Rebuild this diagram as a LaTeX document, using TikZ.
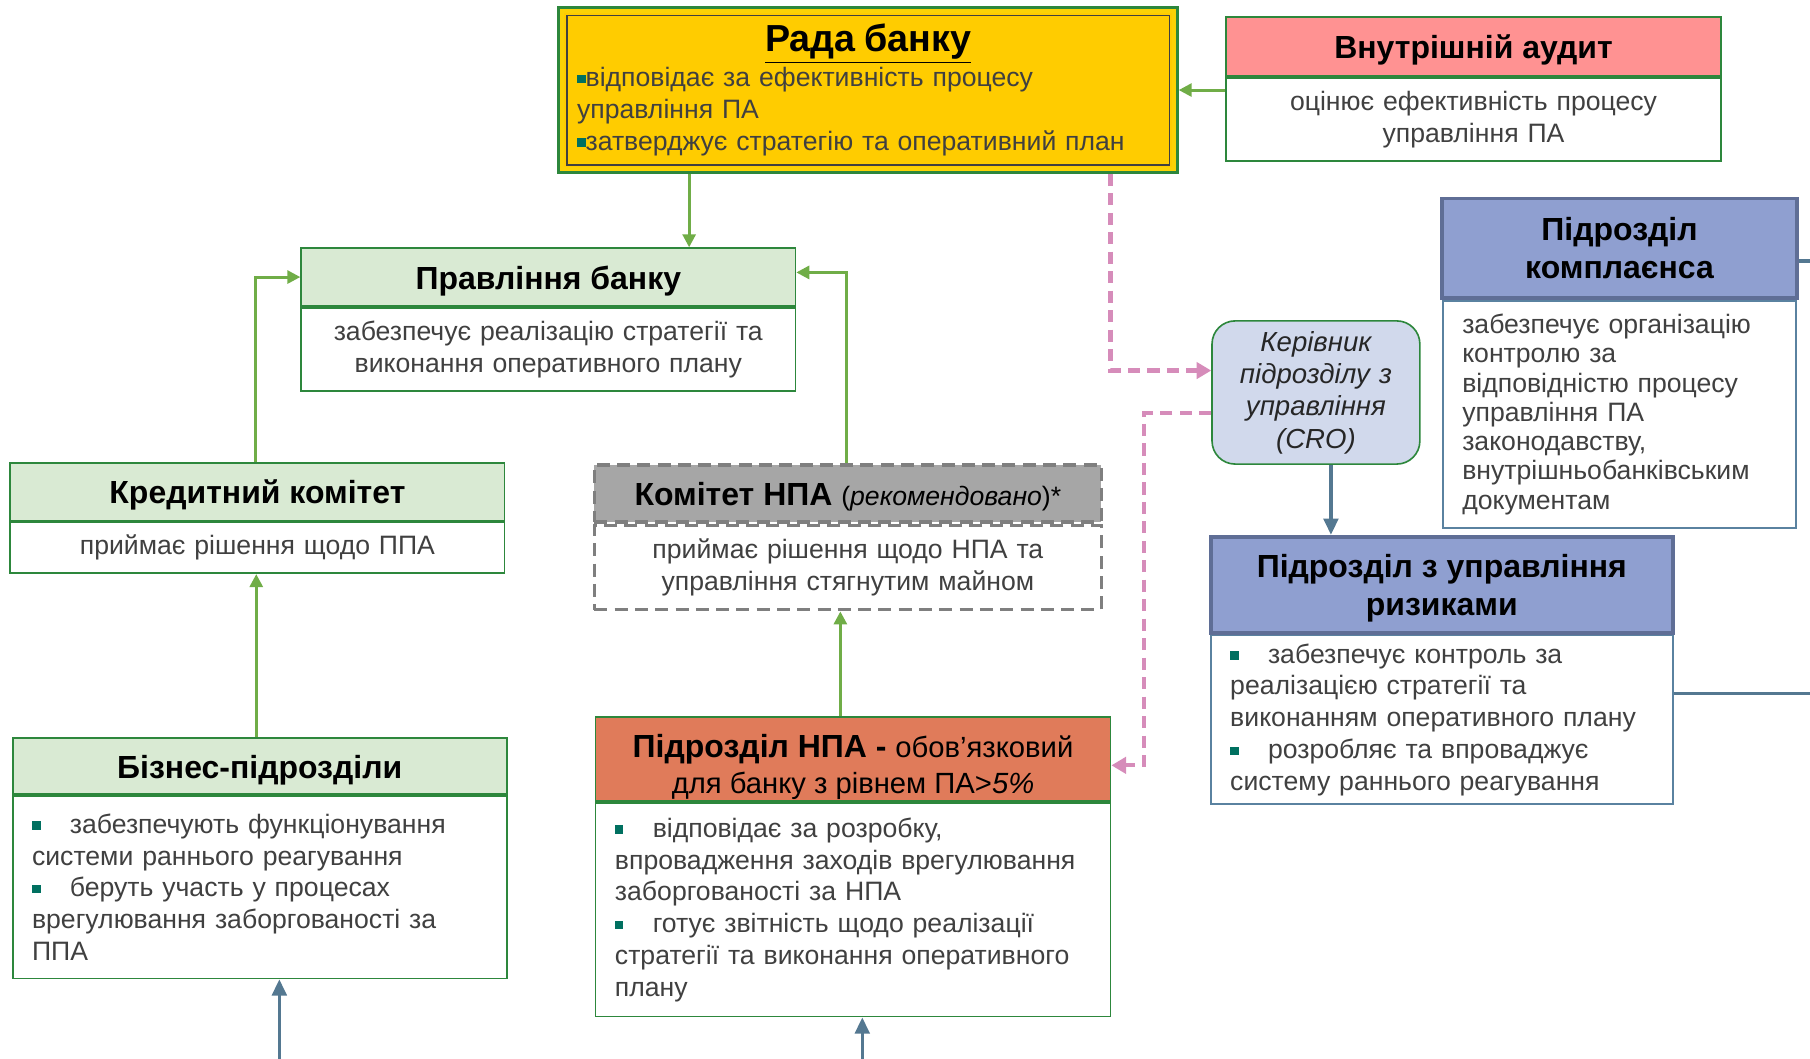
\documentclass[tikz,border=0pt]{standalone}
\usepackage{fontspec}
\setmainfont{Liberation Sans}
\usetikzlibrary{arrows.meta}

\definecolor{radayellow}{RGB}{255,204,0}
\definecolor{auditpink}{RGB}{255,146,146}
\definecolor{lgreen}{RGB}{217,234,211}
\definecolor{boxgreen}{RGB}{45,135,60}
\definecolor{lgreenline}{RGB}{112,173,71}
\definecolor{hdrgray}{RGB}{166,166,166}
\definecolor{dashgray}{RGB}{127,127,127}
\definecolor{npaorange}{RGB}{224,123,90}
\definecolor{crofill}{RGB}{209,217,236}
\definecolor{periwinkle}{RGB}{143,159,208}
\definecolor{blueedge}{RGB}{95,110,150}
\definecolor{steelbox}{RGB}{90,130,160}
\definecolor{steel}{RGB}{84,120,145}
\definecolor{pinkline}{RGB}{214,140,186}
\definecolor{txtgray}{RGB}{64,64,64}
\definecolor{bulteal}{RGB}{0,112,96}

\newcommand{\bodyfont}{\fontsize{16.4}{19.6}\selectfont}
\newcommand{\headfont}{\fontsize{19.7}{23.5}\selectfont\bfseries}
\newcommand{\bul}{{\color{bulteal}\rule[0.25ex]{0.32em}{0.32em}}}

\tikzset{
  hdrbox/.style={draw=boxgreen, line width=1.1pt, align=center, font=\headfont, text=black, inner sep=2pt, text depth=0pt},
  hdrone/.style={hdrbox, text height=15pt},
  bluehdr/.style={draw=blueedge, line width=2.4pt, fill=periwinkle},
  bodybox/.style={draw=boxgreen, line width=1.1pt, fill=white, anchor=north, font=\bodyfont, text=txtgray, inner xsep=0.42cm, inner ysep=2pt},
  bodyc/.style={bodybox, align=center},
  bodyl/.style={bodybox, align=left},
  dashbox/.style={draw=dashgray, line width=2.2pt, dash pattern=on 8pt off 4.5pt},
  garrow/.style={draw=lgreenline, line width=1.8pt, -{Triangle[length=8pt,width=8pt]}},
  barrow/.style={draw=steel, line width=2pt, -{Triangle[length=10pt,width=9pt]}},
  bline/.style={draw=steel, line width=2pt},
  parrow/.style={draw=pinkline, line width=2.6pt, dash pattern=on 7.5pt off 4.5pt, -{Triangle[length=9pt,width=10pt]}}
}

\begin{document}
\begin{tikzpicture}[x=0.025cm, y=-0.025cm]
			%%%%% START %%%%%
			\useasboundingbox (0,0) rectangle (1568,917);
			
			% rada and audit
			\node[draw=boxgreen, fill=radayellow, line width=1.5pt, minimum width=13.4cm, minimum height=3.575cm, text width=12.6cm, inner sep=2pt, align=left, font=\bodyfont, text=txtgray] (rada) at (752,78)
			  {\makebox[\linewidth]{\fontsize{23.2}{26}\selectfont\bfseries\color{black}\underline{Рада банку}}\\[2pt]
			   \bul відповідає за ефективність процесу\\ управління ПА\\ \bul затверджує стратегію та оперативний план};
			\draw[line width=2.5pt, draw=yellow!70!orange] ([xshift=0.1cm,yshift=-0.1cm]rada.north west) rectangle ([xshift=-0.1cm,yshift=0.1cm]rada.south east);
			\draw[line width=1.2pt, draw=black!75] ([xshift=0.2cm,yshift=-0.2cm]rada.north west) rectangle ([xshift=-0.2cm,yshift=0.2cm]rada.south east);
			
			\node[hdrone, fill=auditpink, minimum width=10.725cm, minimum height=1.275cm] (audit) at (1276.5,40.5) {Внутрішній аудит};
			\node[bodyc, minimum width=10.725cm, minimum height=1.8cm, text width=9.8cm] (auditb) at (audit.south) {оцінює ефективність процесу\\ управління ПА};
			
			% green boxes
			\node[hdrone, fill=lgreen, minimum width=10.7cm, minimum height=1.25cm] (pravl) at (475,240) {Правління банку};
			\node[bodyc, minimum width=10.7cm, minimum height=1.8cm, text width=9.8cm] (pravlb) at (pravl.south) {забезпечує реалізацію стратегії та\\ виконання оперативного плану};
			
			\node[hdrone, fill=lgreen, minimum width=10.7cm, minimum height=1.25cm] (kred) at (223,426) {Кредитний комітет};
			\node[bodyc, minimum width=10.7cm, minimum height=1.1cm, text width=9.8cm] (kredb) at (kred.south) {приймає рішення щодо ППА};
			
			\node[hdrone, fill=lgreen, minimum width=10.7cm, minimum height=1.225cm] (biz) at (225,663.5) {Бізнес-підрозділи};
			\node[bodyl, minimum width=10.7cm, minimum height=3.95cm, text width=9.86cm] (bizb) at (biz.south)
			  {\bul\hspace{1.1em}забезпечують функціонування\\ системи раннього реагування\\ \bul\hspace{1.1em}беруть участь у процесах\\ врегулювання заборгованості за\\ ППА};
			
			% npa
			\node[hdrone, dashbox, fill=hdrgray, minimum width=10.975cm, minimum height=1.225cm] (knpa) at (734.5,427.5) {Комітет НПА {\mdseries\bodyfont(\textit{рекомендовано})*}};
			\node[bodyc, dashbox, minimum width=10.975cm, minimum height=1.825cm, text width=10cm] (knpab) at (knpa.south) {приймає рішення щодо НПА та\\ управління стягнутим майном};
			
			\node[hdrbox, fill=npaorange, minimum width=11.15cm, minimum height=1.825cm, font=\fontsize{19.7}{22}\selectfont\bfseries, text height=42pt] (npa) at (739,657.5)
			  {Підрозділ НПА - {\mdseries\fontsize{18}{22}\selectfont обов’язковий}\\ {\mdseries\fontsize{18}{22}\selectfont для банку з рівнем ПА>\textit{5\%}}};
			\node[bodyl, minimum width=11.15cm, minimum height=4.625cm, text width=10.31cm] (npab) at (npa.south)
			  {\bul\hspace{1.1em}відповідає за розробку,\\ впровадження заходів врегулювання\\ заборгованості за НПА\\ \bul\hspace{1.1em}готує звітність щодо реалізації\\ стратегії та виконання оперативного\\ плану};
			
			% risk side
			\node[draw=boxgreen, line width=1pt, rounded corners=0.5cm, fill=crofill, minimum width=4.5cm, minimum height=3.1cm, text width=4.2cm, inner sep=0pt, align=center, font=\fontsize{17}{19.9}\selectfont\itshape, text=black!85] (cro) at (1140,340)
			  {Керівник\\ підрозділу з\\ управління\\ (CRO)};
			
			\node[hdrbox, bluehdr, minimum width=7.7cm, minimum height=2.15cm] (komp) at (1403,215) {Підрозділ\\ комплаєнса};
			\node[bodyl, draw=steelbox, minimum width=7.65cm, minimum height=4.925cm, text width=6.81cm, font=\fontsize{16.4}{18}\selectfont] (kompb) at (komp.south)
			  {забезпечує організацію\\ контролю за\\ відповідністю процесу\\ управління ПА\\ законодавству,\\ внутрішньобанківським\\ документам};
			
			\node[hdrbox, bluehdr, minimum width=10cm, minimum height=2.075cm] (ryz) at (1249,506.5) {Підрозділ з управління\\ ризиками};
			\node[bodyl, draw=steelbox, minimum width=10cm, minimum height=3.65cm, text width=9.16cm] (ryzb) at (ryz.south)
			  {\bul\hspace{1.1em}забезпечує контроль за\\ реалізацією стратегії та\\ виконанням оперативного плану\\ \bul\hspace{1.1em}розробляє та впроваджує\\ систему раннього реагування};
			
			% connectors
			\coordinate (g1) at (597,0);
			\coordinate (g2) at (0,78);
			\coordinate (g3) at (221,0);
			\coordinate (g4) at (733,236);
			\coordinate (g5) at (222,0);
			\coordinate (g6) at (728,0);
			\draw[garrow] (rada.south -| g1) -- (pravl.north -| g1);
			\draw[garrow] (auditb.west |- g2) -- (rada.east |- g2);
			\draw[garrow] (kred.north -| g3) |- (pravl.west);
			\draw[garrow] (knpa.north -| g4) -- (g4) -- (pravl.east |- g4);
			\draw[garrow] (biz.north -| g5) -- (kredb.south -| g5);
			\draw[garrow] (npa.north -| g6) -- (knpab.south -| g6);
			
			\coordinate (p1) at (962,321);
			\coordinate (p2) at (991,358);
			\coordinate (p3) at (991,663);
			\draw[parrow] (rada.south -| p1) |- (cro.west |- p1);
			\draw[parrow] (cro.west |- p2) -- (p2) -- (p3) -- (npa.east |- p3);
			
			\coordinate (b1) at (1153,0);
			\coordinate (e1) at (242,917);
			\coordinate (e2) at (747,917);
			\coordinate (e3) at (1568,226);
			\coordinate (e4) at (1568,601);
			\draw[barrow] (cro.south -| b1) -- (ryz.north -| b1);
			\draw[barrow] (e1) -- (bizb.south -| e1);
			\draw[barrow] (e2) -- (npab.south -| e2);
			\draw[bline] (komp.east |- e3) -- (e3);
			\draw[bline] (ryzb.east |- e4) -- (e4);
			
			%%%%% END %%%%%
\end{tikzpicture}
\end{document}
